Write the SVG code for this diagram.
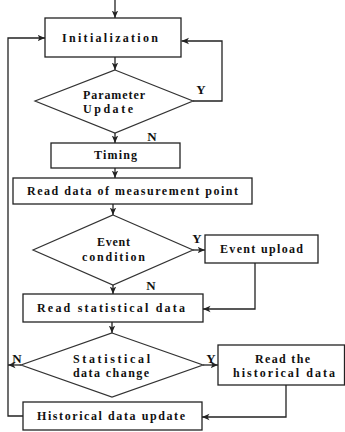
<svg xmlns="http://www.w3.org/2000/svg" width="345" height="432" viewBox="0 0 345 432">
  <style>
    .box { fill: #ffffff; stroke: #222222; stroke-width: 1.3; }
    .dia { fill: #ffffff; stroke: #333333; stroke-width: 1.2; }
    .txt { font-family: "Liberation Serif", "DejaVu Serif", serif; font-weight: bold; font-size: 12px; fill: #111111; text-anchor: middle; }
    .lbl { font-family: "Liberation Serif", "DejaVu Serif", serif; font-weight: bold; font-size: 13px; fill: #111111; text-anchor: middle; }
    .wire { fill: none; stroke: #222222; stroke-width: 1.3; }
  </style>
  <defs>
    <marker id="arrow" viewBox="0 0 8 8" refX="7.5" refY="4" markerWidth="8" markerHeight="8" markerUnits="userSpaceOnUse" orient="auto">
      <path d="M0,0.8 L7.5,4 L0,7.2 L2,4 Z" fill="#222222"/>
    </marker>
  </defs>
  <rect width="345" height="432" fill="#ffffff"/>

  <g id="connectors" class="wire" marker-end="url(#arrow)">
    <path d="M115,0 V18"/>
    <path d="M115,57 V70"/>
    <path d="M193,101 H222 V41 H181.5"/>
    <path d="M115,133 V143"/>
    <path d="M115,168 V178"/>
    <path d="M113,204 V215"/>
    <path d="M193,250 H205"/>
    <path d="M113,285 V294"/>
    <path d="M255,263 V309 H203"/>
    <path d="M112,322 V333"/>
    <path d="M203,365 H218"/>
    <path d="M21,365 H8"/>
    <path d="M286,385 V417 H202"/>
    <path d="M23,416 H8 V38 H45"/>
  </g>

  <g id="initialization">
    <rect class="box" x="45" y="18" width="136" height="39"/>
    <text class="txt" x="110" y="42" textLength="96" lengthAdjust="spacing">Initialization</text>
  </g>

  <g id="parameter-update">
    <polygon class="dia" points="115,70 193,101 115,133 35,101"/>
    <text class="txt" x="114" y="99" textLength="62" lengthAdjust="spacing">Parameter</text>
    <text class="txt" x="108" y="113" textLength="50" lengthAdjust="spacing">Update</text>
    <text class="lbl" x="201" y="94">Y</text>
    <text class="lbl" x="152" y="141">N</text>
  </g>

  <g id="timing">
    <rect class="box" x="51" y="143" width="129" height="25"/>
    <text class="txt" x="115.5" y="159" textLength="43" lengthAdjust="spacing">Timing</text>
  </g>

  <g id="read-measurement">
    <rect class="box" x="13" y="178" width="239" height="26"/>
    <text class="txt" x="132.5" y="195" textLength="211" lengthAdjust="spacing">Read data of measurement point</text>
  </g>

  <g id="event-condition">
    <polygon class="dia" points="113,215 193,250 113,285 33,250"/>
    <text class="txt" x="113.5" y="246" textLength="33" lengthAdjust="spacing">Event</text>
    <text class="txt" x="113.5" y="261" textLength="63" lengthAdjust="spacing">condition</text>
    <text class="lbl" x="197" y="243">Y</text>
    <text class="lbl" x="151" y="290">N</text>
  </g>

  <g id="event-upload">
    <rect class="box" x="205" y="235" width="113" height="28"/>
    <text class="txt" x="261.5" y="253" textLength="83" lengthAdjust="spacing">Event upload</text>
  </g>

  <g id="read-statistical">
    <rect class="box" x="23" y="294" width="180" height="28"/>
    <text class="txt" x="111" y="312" textLength="148" lengthAdjust="spacing">Read statistical data</text>
  </g>

  <g id="statistical-change">
    <polygon class="dia" points="112,333 203,365 112,397 21,365"/>
    <text class="txt" x="111.5" y="363" textLength="77" lengthAdjust="spacing">Statistical</text>
    <text class="txt" x="111" y="377" textLength="76" lengthAdjust="spacing">data change</text>
    <text class="lbl" x="211" y="363">Y</text>
    <text class="lbl" x="17" y="363">N</text>
  </g>

  <g id="read-historical">
    <rect class="box" x="218" y="345" width="126.5" height="40"/>
    <text class="txt" x="282.5" y="363" textLength="55" lengthAdjust="spacing">Read the</text>
    <text class="txt" x="284" y="377" textLength="102" lengthAdjust="spacing">historical data</text>
  </g>

  <g id="historical-update">
    <rect class="box" x="23" y="402" width="179" height="28"/>
    <text class="txt" x="111" y="420" textLength="148" lengthAdjust="spacing">Historical data update</text>
  </g>
</svg>
